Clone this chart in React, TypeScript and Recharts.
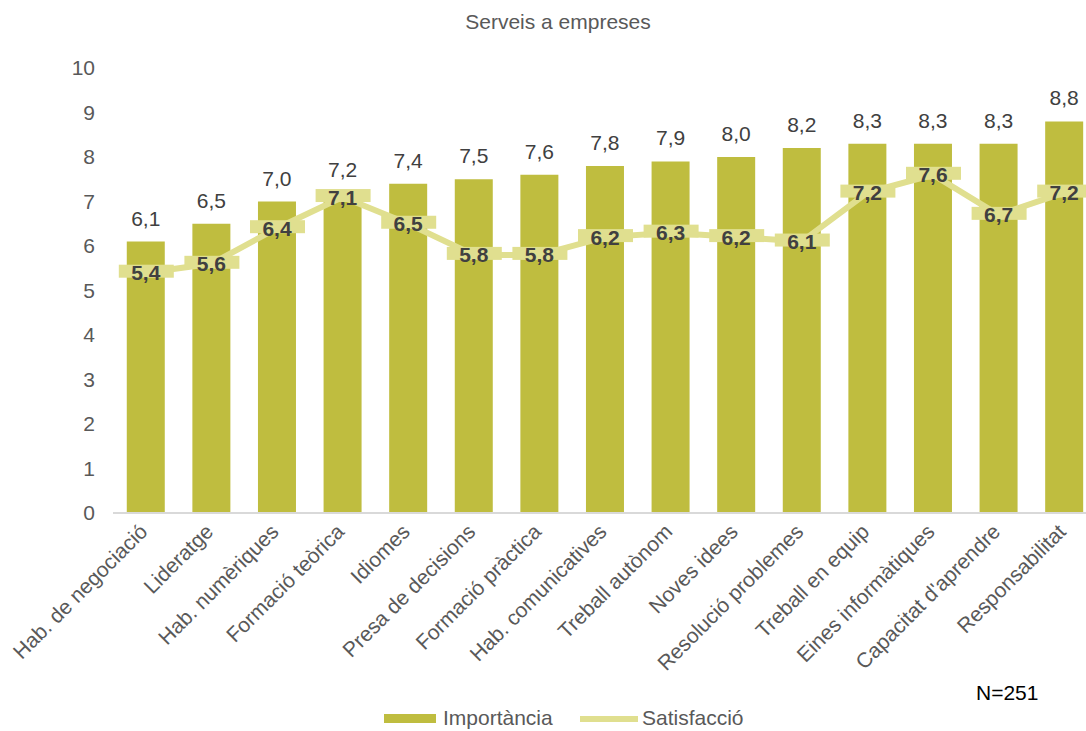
import React from 'react';
import { ComposedChart, Bar, Line, XAxis, YAxis, LabelList } from 'recharts';

const categories = [
  'Hab. de negociació',
  'Lideratge',
  'Hab. numèriques',
  'Formació teòrica',
  'Idiomes',
  'Presa de decisions',
  'Formació pràctica',
  'Hab. comunicatives',
  'Treball autònom',
  'Noves idees',
  'Resolució problemes',
  'Treball en equip',
  'Eines informàtiques',
  "Capacitat d'aprendre",
  'Responsabilitat',
];
const importancia = [6.1, 6.5, 7.0, 7.2, 7.4, 7.5, 7.6, 7.8, 7.9, 8.0, 8.2, 8.3, 8.3, 8.3, 8.8];
const satisfaccio = [5.4, 5.6, 6.4, 7.1, 6.5, 5.8, 5.8, 6.2, 6.3, 6.2, 6.1, 7.2, 7.6, 6.7, 7.2];
const yTicks = [0, 1, 2, 3, 4, 5, 6, 7, 8, 9, 10];

const data = categories.map((name, i) => ({
  name,
  importancia: importancia[i],
  satisfaccio: satisfaccio[i],
}));

const FONT = '"Liberation Sans", Arial, sans-serif';
const BAR_COLOR = '#bfbd3f';
const LINE_COLOR = '#e0df8f';
const TEXT_GRAY = '#595959';
const FS = 21;

const fmt = (v: number) => v.toFixed(1).replace('.', ',');

const XTick = (props: any) => {
  const { x, y, payload } = props;
  return (
    <g transform={`translate(${x + 3},${y + 20})`}>
      <text textAnchor="end" transform="rotate(-45)" fill={TEXT_GRAY} fontSize={FS} fontFamily={FONT}>
        {payload.value}
      </text>
    </g>
  );
};

const RectDot = (props: any) => {
  const { cx, cy, index } = props;
  if (cx == null || cy == null) return null;
  return <rect key={`dot-${index}`} x={cx - 27} y={cy - 8} width={55} height={13} fill={LINE_COLOR} />;
};

const LineLabel = (props: any) => {
  const { x, y, value } = props;
  return (
    <text
      x={x}
      y={y}
      textAnchor="middle"
      dominantBaseline="central"
      fill="#404040"
      fontSize={FS}
      fontWeight="bold"
      fontFamily={FONT}
    >
      {fmt(value)}
    </text>
  );
};

export default function App() {
  return (
    <div
      style={{
        position: 'fixed',
        top: 0,
        left: 0,
        width: 1086,
        height: 731,
        overflow: 'hidden',
        background: '#fff',
        fontFamily: FONT,
      }}
    >
      <div
        style={{
          position: 'absolute',
          top: 10,
          left: 0,
          width: 1116,
          textAlign: 'center',
          fontSize: FS,
          color: TEXT_GRAY,
        }}
      >
        Serveis a empreses
      </div>
      <ComposedChart
        width={1100}
        height={731}
        data={data}
        margin={{ top: 68, right: 3, left: 13, bottom: 58 }}
        barCategoryGap="21%"
      >
        <XAxis
          dataKey="name"
          interval={0}
          height={160}
          tickLine={false}
          tickSize={0}
          tickMargin={0}
          axisLine={{ stroke: '#d9d9d9', strokeWidth: 2 }}
          tick={<XTick />}
        />
        <YAxis
          width={100}
          domain={[0, 10]}
          ticks={yTicks}
          interval={0}
          axisLine={false}
          tickLine={false}
          tickSize={0}
          tickMargin={18}
          tick={{ fill: TEXT_GRAY, fontSize: FS, fontFamily: FONT }}
        />
        <Bar dataKey="importancia" fill={BAR_COLOR} isAnimationActive={false}>
          <LabelList
            dataKey="importancia"
            position="top"
            offset={16}
            formatter={(v: any) => fmt(Number(v))}
            style={{ fill: '#404040', fontSize: FS, fontFamily: FONT }}
          />
        </Bar>
        <Line
          dataKey="satisfaccio"
          stroke={LINE_COLOR}
          strokeWidth={6}
          dot={<RectDot />}
          activeDot={false}
          isAnimationActive={false}
        >
          <LabelList dataKey="satisfaccio" content={<LineLabel />} />
        </Line>
      </ComposedChart>
      <div style={{ position: 'absolute', left: 976, top: 681, fontSize: FS, color: '#000' }}>N=251</div>
      <div style={{ position: 'absolute', left: 384, top: 714, width: 52, height: 9, background: BAR_COLOR }} />
      <div style={{ position: 'absolute', left: 443, top: 706, fontSize: FS, color: TEXT_GRAY }}>Importància</div>
      <div style={{ position: 'absolute', left: 580, top: 716, width: 58, height: 6, background: LINE_COLOR }} />
      <div style={{ position: 'absolute', left: 642, top: 706, fontSize: FS, color: TEXT_GRAY }}>Satisfacció</div>
    </div>
  );
}
